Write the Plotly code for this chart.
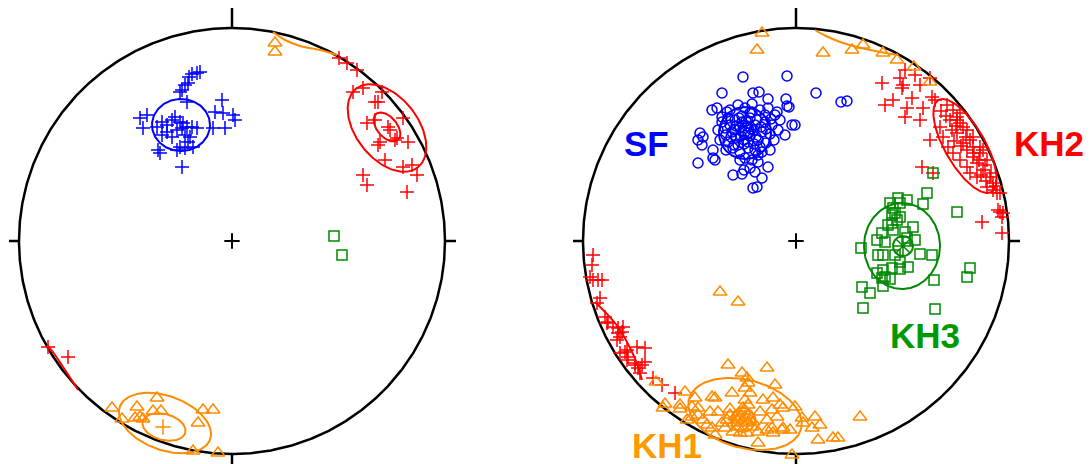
import numpy as np
import plotly.graph_objects as go

# Projection units: primitive circle radius = 213, origin at net centre, y up
R_NET = 213

# ---------------- LEFT NET ----------------
L_SF_X = [-32,-35,-40,-43,-44,-47,-50,-52,-45,-10,-17,-9,1,3,-19,-7,-92,-85,-89,-75,-70,-65,-60,-57,-52,-49,-45,-40,-35,-65,-70,-60,-47,-42,-44,-52,-47,-39,-55,-74,-72,-50,-55,-50]
L_SF_Y = [169,168,167,164,158,156,151,149,139,141,129,128,126,121,113,113,123,126,113,114,119,116,121,124,119,118,114,114,113,109,106,104,106,104,99,94,93,94,91,91,88,74,111,113]

L_KH2_X = [107,115,125,121,131,150,143,146,135,143,171,156,158,165,148,146,176,163,153,171,180,185,131,135,175,-184,-164]
L_KH2_Y = [183,178,171,149,153,149,139,139,118,121,123,114,111,103,99,96,99,101,81,74,76,66,66,56,49,-106,-116]

L_KH1_X = [43,43,-120,-110,-95,-97,-92,-89,-75,-79,-71,-34,-29,-19,-39,-14]
L_KH1_Y = [198,189,-167,-178,-166,-177,-176,-178,-157,-170,-170,-182,-169,-169,-210,-212]
L_KH1_MEAN = (-69, -186)

L_KH3_X = [102, 110]
L_KH3_Y = [5, -14]

# confidence ellipses: centre x, centre y, semi-major, semi-minor, rotation (deg)
L_SF_ELL = [(-51, 116, 29, 26, 0)]
L_KH2_ELL = [(155, 113, 50, 31, -52), (155, 114, 17, 10, -50)]
L_KH1_ELL = [(-67, -182, 48, 27, -20), (-68, -186, 22, 13, -15)]
# great-circle / cone traces clipped by the primitive
L_KH1_ARC_X = [41, 53, 68, 88, 105]
L_KH1_ARC_Y = [209, 201, 195, 191, 186]
L_KH2_ARC_X = [-185, -177, -169, -161, -154]
L_KH2_ARC_Y = [-104, -114, -126, -138, -149]

# ---------------- RIGHT NET ----------------
R_SF_X = [-53,-9,20,45,51,-74,-43,-37,-28,-10,-9,-7,-98,-96,-93,-98,-94,-83,-83,-81,-63,-54,-43,-39,-34,-28,-4,-1,-19,-84,-79,-74,-69,
          -66,-58,-51,-44,-36,-28,-21,-74,-68,-61,-54,-46,-39,-31,-24,-16,-78,-71,-64,-56,-49,-42,-34,-26,-18,-11,-76,-68,-60,-52,-46,-38,-30,-22,-70,-63,-56,-48,-41,-34,-26,-51,-44,-38,-46,-56,-61,-51,-41,-54,-48,-58,-36,-66,-31,-44,-38,-52,-41,
          -50,-45,-55,-40,-60,-35,-48,-52,-42,-57,-46,-65,-30,-25,-70,-62]
R_SF_Y = [164,165,148,139,140,148,148,149,142,142,135,134,78,108,104,101,96,91,83,81,66,67,53,54,63,74,116,116,129,131,133,124,129,
          131,136,133,137,131,133,126,119,123,121,125,123,121,119,116,121,111,113,109,113,115,111,109,107,111,106,101,99,103,101,105,101,98,101,91,93,89,93,91,89,91,83,81,79,73,81,111,109,116,119,99,96,94,116,126,129,86,71,69,
          120,112,105,104,115,114,108,97,97,123,128,104,112,122,106,96]

R_KH2_X = [86,104,107,106,124,97,89,111,109,116,124,127,136,139,134,126,137,151,157,161,167,144,147,152,157,164,171,174,181,174,177,184,191,167,171,177,181,187,194,197,191,197,204,204,206,186,206,164,171,161,156,184,187,177,161,154,164,202,207,201,109,119,134,183,178,189,195,170,160,150,145,158,165,200,190,185,
           -203,-204,-206,-203,-198,-194,-196,-199,-191,-188,-183,-189,-178,-174,-173,-176,-179,-178,-171,-168,-176,-159,-151,-161,-158,-156,-154,-151,-143,-134,-121,-169,-169,-161]
R_KH2_Y = [158,163,156,153,156,141,136,133,124,143,121,133,144,141,101,74,68,136,131,121,114,114,104,94,88,81,74,68,64,101,94,88,81,98,91,84,78,71,64,58,54,51,48,29,24,19,8,118,111,108,111,94,91,104,124,121,128,31,28,48,171,166,163,81,88,76,68,104,115,125,130,100,95,55,60,66,
           -14,-24,-36,-39,-39,-39,-57,-62,-76,-81,-86,-82,-87,-91,-86,-96,-99,-92,-111,-116,-112,-106,-107,-122,-127,-132,-124,-121,-137,-144,-152,-109,-119,-124]

R_KH3_X = [131,102,111,94,104,127,97,99,104,101,161,96,97,117,86,81,89,111,119,65,87,99,124,136,112,104,96,87,81,89,94,86,174,171,138,66,74,87,67,139,137,96,92,109,82,104]
R_KH3_Y = [48,43,41,38,38,37,33,28,24,21,29,18,11,14,8,1,-1,3,1,-7,-14,-14,-13,-14,-26,-28,-27,-29,-32,-36,-38,-37,-27,-36,-39,-46,-52,-45,-67,-68,68,26,16,9,-14,-21]
R_KH3_MEAN = (107, -5)

R_KH1_X = [-68,-29,-54,-49,-48,-111,-101,-84,-81,-64,-51,-46,-51,-21,-133,-116,-104,-98,-86,-78,-48,-53,-33,-23,-16,-13,-1,-24,-19,-29,-66,-61,-56,-51,-46,-59,-54,-49,-43,-69,-74,-71,-98,-93,-89,-109,-104,-84,-81,-63,-56,-49,-38,-29,-23,-24,-13,-6,6,7,19,24,16,22,37,42,64,-38,-4,-14,-36,
           -76,-58,-140,-131,-116,-39,-34,27,56,67,87,101,118,134,-57,-52,-47,-62,-44,-58,-66]
R_KH1_Y = [-124,-127,-132,-137,-142,-151,-157,-156,-157,-152,-147,-152,-159,-144,-167,-168,-166,-167,-171,-171,-164,-167,-159,-157,-164,-167,-166,-169,-176,-179,-174,-176,-177,-176,-179,-179,-181,-182,-181,-179,-182,-187,-174,-179,-184,-179,-176,-187,-194,-191,-192,-192,-191,-189,-192,-187,-187,-189,-177,-182,-176,-184,-187,-199,-197,-197,-176,-202,-214,-189,-171,
           -51,-61,-141,-163,-164,191,208,188,191,196,188,181,174,159,-172,-170,-174,-182,-186,-186,-168]

R_SF_ELL = [(-51, 108, 26, 26, 0), (-50, 110, 8, 8, 0)]
R_KH2_ELL = [(169, 95, 53, 20, -60)]
R_KH3_ELL = [(106, -5, 43, 38, 90), (107, -5, 10, 10, 0)]
R_KH1_ELL = [(-51, -173, 58, 34, -15), (-53, -179, 12, 12, 0)]
R_KH1_ARC_X = [19, 30, 47, 65, 84, 101]
R_KH1_ARC_Y = [211, 205, 198, 193, 189, 186]
R_KH2_ARC_X = [-201, -190, -178, -168, -160, -154]
R_KH2_ARC_Y = [-61, -72, -86, -103, -120, -139]

LABELS = ["SF", "KH2", "KH3", "KH1"]
LABEL_X = [-150, 253, 129, -129]
LABEL_Y = [98, 98, -94, -204]

# ---------------- styles ----------------
BLUE = "#0000FF"
RED = "#FF0000"
GREEN = "#008800"
ORANGE = "#FF8C00"
LABEL_COLORS = [BLUE, RED, "#009900", "#FF9900"]

fig = go.Figure()


def ax(side):
    return ("x", "y") if side == "L" else ("x2", "y2")


def ellipse(cx, cy, a, b, ang):
    t = np.linspace(0, 2 * np.pi, 181)
    th = np.deg2rad(ang)
    x = cx + a * np.cos(t) * np.cos(th) - b * np.sin(t) * np.sin(th)
    y = cy + a * np.cos(t) * np.sin(th) + b * np.sin(t) * np.cos(th)
    return x, y


def add_net(side):
    xa, ya = ax(side)
    t = np.linspace(0, 2 * np.pi, 721)
    fig.add_trace(go.Scatter(x=R_NET * np.cos(t), y=R_NET * np.sin(t), mode="lines",
                             line=dict(color="black", width=2.5), xaxis=xa, yaxis=ya, hoverinfo="skip"))
    # ticks at N, E, S, W
    for (x0, y0, x1, y1) in [(0, R_NET, 0, R_NET + 20), (R_NET, 0, R_NET + 11, 0),
                             (0, -R_NET, 0, -R_NET - 12), (-R_NET, 0, -R_NET - 10, 0)]:
        fig.add_trace(go.Scatter(x=[x0, x1], y=[y0, y1], mode="lines", line=dict(color="black", width=2.5),
                                 xaxis=xa, yaxis=ya, hoverinfo="skip", cliponaxis=False))
    fig.add_trace(go.Scatter(x=[0], y=[0], mode="markers", xaxis=xa, yaxis=ya,
                             marker=dict(symbol="cross-thin", size=11, line=dict(color="black", width=2))))


def pts(side, xs, ys, symbol, color, size):
    xa, ya = ax(side)
    fig.add_trace(go.Scatter(x=xs, y=ys, mode="markers", xaxis=xa, yaxis=ya, cliponaxis=False,
                             marker=dict(symbol=symbol, size=size, color=color,
                                         line=dict(color=color, width=1.5))))


def ells(side, lst, color, width=2):
    xa, ya = ax(side)
    for e in lst:
        x, y = ellipse(*e)
        fig.add_trace(go.Scatter(x=x, y=y, mode="lines", line=dict(color=color, width=width),
                                 xaxis=xa, yaxis=ya, hoverinfo="skip"))


def arc(side, xs, ys, color):
    xa, ya = ax(side)
    fig.add_trace(go.Scatter(x=xs, y=ys, mode="lines", line=dict(color=color, width=2, shape="spline"),
                             xaxis=xa, yaxis=ya, hoverinfo="skip"))


for s in ("L", "R"):
    add_net(s)

# left data
ells("L", L_SF_ELL, BLUE)
ells("L", L_KH2_ELL, RED)
ells("L", L_KH1_ELL, ORANGE)
arc("L", L_KH1_ARC_X, L_KH1_ARC_Y, ORANGE)
arc("L", L_KH2_ARC_X, L_KH2_ARC_Y, RED)
pts("L", L_SF_X, L_SF_Y, "cross-thin", BLUE, 10)
pts("L", L_KH2_X, L_KH2_Y, "cross-thin", RED, 10)
pts("L", L_KH1_X, L_KH1_Y, "triangle-up-open", ORANGE, 12)
pts("L", [L_KH1_MEAN[0]], [L_KH1_MEAN[1]], "cross-thin", ORANGE, 11)
pts("L", L_KH3_X, L_KH3_Y, "square-open", GREEN, 10)

# right data
pts("R", R_SF_X, R_SF_Y, "circle-open", BLUE, 10)
pts("R", R_KH2_X, R_KH2_Y, "cross-thin", RED, 10)
pts("R", R_KH3_X, R_KH3_Y, "square-open", GREEN, 10)
pts("R", R_KH1_X, R_KH1_Y, "triangle-up-open", ORANGE, 12)
ells("R", R_SF_ELL, BLUE)
ells("R", R_KH2_ELL, RED)
ells("R", R_KH3_ELL, GREEN)
ells("R", R_KH1_ELL, ORANGE)
arc("R", R_KH1_ARC_X, R_KH1_ARC_Y, ORANGE)
arc("R", R_KH2_ARC_X, R_KH2_ARC_Y, RED)
pts("R", [R_KH3_MEAN[0]], [R_KH3_MEAN[1]], "asterisk-open", GREEN, 16)

for txt, lx, ly, col in zip(LABELS, LABEL_X, LABEL_Y, LABEL_COLORS):
    fig.add_annotation(x=lx, y=ly, xref="x2", yref="y2", text="<b>%s</b>" % txt, showarrow=False,
                       font=dict(family="Liberation Sans, Arial, sans-serif", size=35, color=col),
                       xanchor="center", yanchor="middle")

W, H = 1090, 464
axis_common = dict(visible=False, showgrid=False, zeroline=False, fixedrange=True)
fig.update_layout(
    width=W, height=H, margin=dict(l=0, r=0, t=0, b=0),
    paper_bgcolor="white", plot_bgcolor="rgba(0,0,0,0)", showlegend=False,
    xaxis=dict(domain=[0, 464 / W], range=[-232, 232], **axis_common),
    yaxis=dict(domain=[0, 1], range=[-223, 241], anchor="x", **axis_common),
    xaxis2=dict(domain=[564 / W, 1], range=[-232, 294], anchor="y2", **axis_common),
    yaxis2=dict(domain=[0, 1], range=[-223, 241], anchor="x2", **axis_common),
)

fig.write_html("out.html")
